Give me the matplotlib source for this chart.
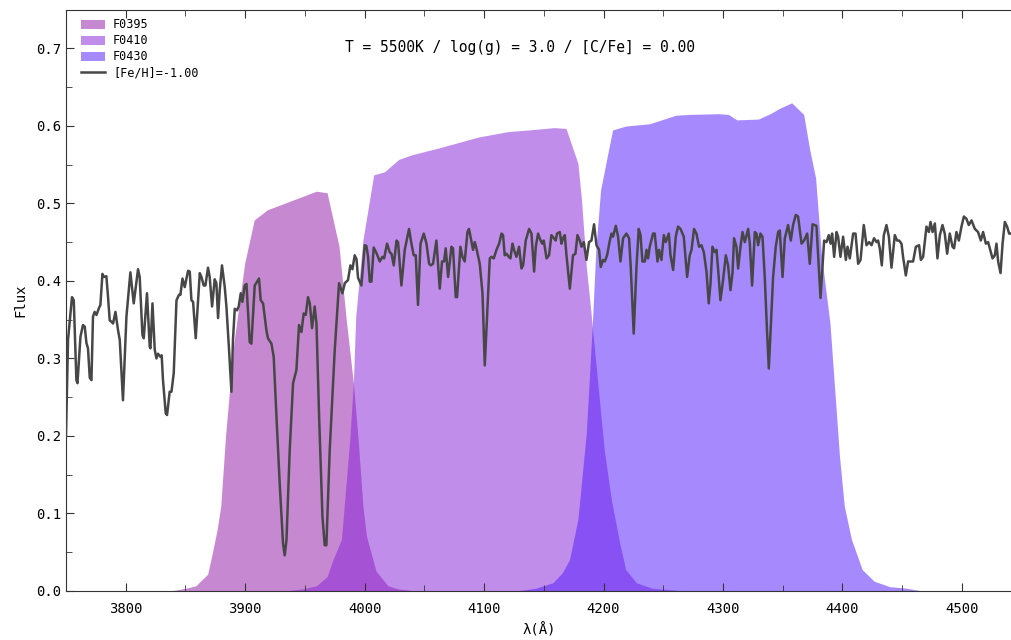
import matplotlib
matplotlib.use("Agg")
import matplotlib.pyplot as plt
from matplotlib.ticker import MultipleLocator

plt.rcParams['font.family'] = ['DejaVu Sans Mono', 'DejaVu Sans']

# ---------------- data ----------------
spec_wave = [3750.0, 3751.7, 3755.0, 3756.5, 3758.7, 3759.6, 3762.1, 3764.2, 3765.7, 3767.1,
             3768.4, 3769.9, 3771.3, 3772.6, 3774.0, 3775.5, 3777.6, 3778.8, 3780.5, 3781.8,
             3783.8, 3785.2, 3786.6, 3788.3, 3789.4, 3791.4, 3793.6, 3795.0, 3797.7, 3800.6,
             3803.9, 3806.7, 3810.3, 3811.7, 3814.0, 3815.1, 3817.8, 3820.1, 3820.7, 3822.4,
             3824.3, 3825.7, 3827.0, 3829.1, 3830.1, 3831.2, 3833.5, 3834.6, 3836.8, 3838.3,
             3840.2, 3842.5, 3844.6, 3845.8, 3847.5, 3849.4, 3852.2, 3853.6, 3855.0, 3856.4,
             3858.6, 3862.0, 3863.4, 3865.3, 3866.7, 3868.9, 3870.3, 3872.3, 3874.5, 3875.9,
             3877.3, 3878.7, 3880.6, 3882.9, 3884.3, 3886.5, 3888.5, 3889.8, 3891.3, 3893.2,
             3894.6, 3896.3, 3897.7, 3899.6, 3901.1, 3903.8, 3905.2, 3908.0, 3911.6, 3913.0,
             3915.0, 3917.8, 3919.1, 3922.0, 3923.9, 3926.2, 3928.9, 3931.7, 3933.1, 3934.6,
             3937.3, 3940.1, 3942.9, 3945.1, 3947.1, 3949.0, 3950.7, 3952.6, 3954.1, 3956.0,
             3958.2, 3959.7, 3961.9, 3964.7, 3966.6, 3968.0, 3970.8, 3975.0, 3978.6, 3981.4,
             3983.4, 3986.1, 3988.1, 3989.8, 3991.7, 3993.2, 3994.5, 3997.3, 4000.1, 4001.5,
             4002.9, 4004.3, 4005.7, 4007.6, 4009.9, 4012.7, 4014.9, 4016.3, 4018.8, 4021.0,
             4022.5, 4024.4, 4026.7, 4028.0, 4030.8, 4033.6, 4037.2, 4039.2, 4041.1, 4042.8,
             4044.7, 4046.8, 4049.5, 4051.8, 4054.0, 4055.4, 4057.3, 4060.1, 4062.9, 4064.8,
             4066.5, 4067.9, 4069.9, 4072.7, 4074.0, 4076.3, 4077.4, 4080.2, 4081.9, 4083.8,
             4086.1, 4087.4, 4089.5, 4090.8, 4092.2, 4093.6, 4096.4, 4098.7, 4100.6, 4102.5,
             4104.8, 4106.2, 4108.1, 4110.4, 4112.6, 4114.6, 4115.9, 4117.3, 4118.8, 4120.7,
             4122.1, 4123.8, 4125.1, 4127.1, 4129.3, 4131.3, 4132.7, 4134.9, 4137.7, 4139.7,
             4141.9, 4143.3, 4145.2, 4146.6, 4148.6, 4150.0, 4152.3, 4154.4, 4156.4, 4158.4,
             4160.0, 4161.1, 4163.4, 4164.8, 4166.1, 4167.6, 4169.0, 4171.8, 4174.5, 4176.5,
             4178.2, 4180.1, 4181.6, 4183.5, 4185.7, 4187.9, 4189.9, 4192.1, 4194.1, 4196.3,
             4197.7, 4199.6, 4201.1, 4203.0, 4205.3, 4206.7, 4208.0, 4210.3, 4212.2, 4214.2,
             4216.4, 4219.2, 4221.4, 4222.8, 4225.3, 4227.6, 4229.5, 4231.0, 4232.6, 4234.6,
             4236.0, 4237.3, 4238.7, 4241.5, 4242.9, 4245.2, 4246.5, 4248.5, 4250.5, 4252.1,
             4254.7, 4256.1, 4258.3, 4260.5, 4262.4, 4264.5, 4267.2, 4270.0, 4272.2, 4273.7,
             4275.8, 4277.8, 4280.0, 4282.0, 4284.0, 4286.2, 4288.1, 4289.6, 4291.2, 4293.2,
             4294.6, 4295.9, 4297.9, 4300.1, 4302.4, 4304.3, 4306.3, 4308.0, 4309.3, 4311.3,
             4312.7, 4314.7, 4316.4, 4318.3, 4321.1, 4322.5, 4324.4, 4326.7, 4328.1, 4329.4,
             4331.4, 4333.1, 4335.0, 4337.0, 4338.4, 4339.8, 4342.0, 4344.2, 4346.2, 4347.6,
             4349.9, 4351.8, 4354.5, 4356.8, 4358.7, 4361.0, 4362.9, 4365.8, 4367.9, 4370.5,
             4372.7, 4375.0, 4378.3, 4381.7, 4384.7, 4386.7, 4388.6, 4390.1, 4391.4, 4393.1,
             4395.1, 4396.4, 4398.4, 4400.6, 4402.9, 4404.3, 4406.2, 4409.0, 4411.0, 4413.2,
             4415.2, 4417.9, 4420.2, 4422.4, 4424.4, 4426.5, 4428.6, 4429.9, 4431.3, 4433.0,
             4434.7, 4436.9, 4438.9, 4441.1, 4443.9, 4445.8, 4447.5, 4449.5, 4450.8, 4453.1,
             4455.0, 4457.0, 4459.2, 4461.5, 4464.2, 4465.7, 4467.6, 4470.4, 4472.4, 4473.8,
             4475.5, 4477.4, 4479.6, 4481.6, 4483.8, 4485.7, 4487.7, 4489.9, 4492.2, 4493.5,
             4495.5, 4497.5, 4499.7, 4501.7, 4503.9, 4505.8, 4508.1, 4510.9, 4513.6, 4515.9,
             4517.8, 4520.1, 4522.0, 4523.4, 4525.7, 4527.6, 4529.0, 4530.4, 4532.4, 4534.1,
             4536.0, 4537.9, 4539.6, 4541.6, 4545.0]
spec_flux = [0.200, 0.324, 0.379, 0.375, 0.272, 0.268, 0.328, 0.343, 0.341, 0.320,
             0.313, 0.275, 0.272, 0.354, 0.360, 0.356, 0.365, 0.369, 0.409, 0.405,
             0.406, 0.379, 0.349, 0.347, 0.345, 0.360, 0.336, 0.324, 0.246, 0.354,
             0.411, 0.371, 0.415, 0.405, 0.330, 0.326, 0.384, 0.315, 0.313, 0.371,
             0.311, 0.300, 0.306, 0.302, 0.304, 0.272, 0.229, 0.227, 0.257, 0.257,
             0.281, 0.375, 0.382, 0.382, 0.403, 0.392, 0.413, 0.412, 0.375, 0.373,
             0.326, 0.410, 0.405, 0.394, 0.394, 0.417, 0.405, 0.367, 0.402, 0.397,
             0.352, 0.388, 0.420, 0.392, 0.367, 0.311, 0.257, 0.324, 0.364, 0.362,
             0.367, 0.384, 0.373, 0.394, 0.396, 0.321, 0.319, 0.394, 0.403, 0.375,
             0.371, 0.336, 0.326, 0.319, 0.302, 0.225, 0.139, 0.061, 0.046, 0.066,
             0.182, 0.268, 0.285, 0.343, 0.334, 0.358, 0.356, 0.379, 0.371, 0.339,
             0.367, 0.345, 0.225, 0.096, 0.059, 0.059, 0.182, 0.311, 0.397, 0.384,
             0.397, 0.401, 0.420, 0.415, 0.433, 0.428, 0.404, 0.394, 0.446, 0.445,
             0.431, 0.399, 0.399, 0.443, 0.436, 0.425, 0.431, 0.429, 0.448, 0.437,
             0.435, 0.420, 0.452, 0.450, 0.394, 0.440, 0.467, 0.448, 0.433, 0.433,
             0.369, 0.448, 0.461, 0.448, 0.422, 0.420, 0.422, 0.452, 0.390, 0.425,
             0.425, 0.442, 0.405, 0.444, 0.442, 0.379, 0.379, 0.444, 0.431, 0.425,
             0.463, 0.467, 0.450, 0.440, 0.450, 0.442, 0.422, 0.384, 0.291, 0.354,
             0.429, 0.431, 0.429, 0.440, 0.448, 0.461, 0.459, 0.433, 0.435, 0.431,
             0.429, 0.448, 0.440, 0.431, 0.444, 0.416, 0.420, 0.452, 0.467, 0.461,
             0.412, 0.444, 0.461, 0.455, 0.448, 0.452, 0.429, 0.433, 0.459, 0.455,
             0.452, 0.461, 0.463, 0.448, 0.455, 0.459, 0.433, 0.390, 0.433, 0.435,
             0.459, 0.452, 0.444, 0.450, 0.427, 0.450, 0.452, 0.473, 0.446, 0.440,
             0.418, 0.427, 0.425, 0.433, 0.452, 0.461, 0.457, 0.471, 0.457, 0.425,
             0.455, 0.461, 0.455, 0.418, 0.332, 0.418, 0.467, 0.459, 0.425, 0.425,
             0.440, 0.429, 0.444, 0.461, 0.461, 0.425, 0.440, 0.427, 0.459, 0.450,
             0.461, 0.433, 0.414, 0.457, 0.470, 0.467, 0.457, 0.405, 0.433, 0.440,
             0.467, 0.461, 0.444, 0.446, 0.437, 0.412, 0.371, 0.397, 0.444, 0.437,
             0.440, 0.416, 0.375, 0.401, 0.433, 0.420, 0.388, 0.410, 0.455, 0.444,
             0.416, 0.444, 0.463, 0.450, 0.467, 0.448, 0.394, 0.463, 0.461, 0.446,
             0.461, 0.457, 0.405, 0.332, 0.287, 0.332, 0.405, 0.444, 0.463, 0.465,
             0.405, 0.455, 0.472, 0.452, 0.472, 0.485, 0.483, 0.448, 0.452, 0.461,
             0.422, 0.473, 0.471, 0.378, 0.452, 0.450, 0.459, 0.448, 0.461, 0.431,
             0.463, 0.457, 0.431, 0.457, 0.427, 0.444, 0.429, 0.461, 0.461, 0.422,
             0.427, 0.472, 0.446, 0.450, 0.446, 0.455, 0.450, 0.452, 0.442, 0.420,
             0.459, 0.472, 0.457, 0.417, 0.459, 0.452, 0.452, 0.448, 0.431, 0.407,
             0.425, 0.425, 0.425, 0.444, 0.446, 0.427, 0.431, 0.470, 0.463, 0.476,
             0.463, 0.474, 0.429, 0.459, 0.472, 0.461, 0.435, 0.461, 0.444, 0.442,
             0.463, 0.452, 0.470, 0.483, 0.480, 0.472, 0.478, 0.467, 0.463, 0.452,
             0.463, 0.448, 0.450, 0.442, 0.429, 0.433, 0.448, 0.425, 0.410, 0.448,
             0.476, 0.470, 0.461, 0.461, 0.455]

f0395_wave = [3840, 3851, 3859, 3869, 3873, 3877, 3880, 3884, 3888, 3891, 3900, 3908,
              3919, 3960, 3969, 3979, 3985, 3991, 3995, 3999, 4002, 4010, 4020, 4029, 4040]
f0395_thr = [0.0, 0.003, 0.006, 0.021, 0.049, 0.079, 0.109, 0.20, 0.27, 0.32, 0.422, 0.478,
             0.491, 0.515, 0.513, 0.444, 0.350, 0.268, 0.195, 0.109, 0.070, 0.025, 0.006, 0.002, 0.0]

f0410_wave = [3937, 3948, 3960, 3969, 3974, 3981, 3988, 3991, 3993, 3999, 4008, 4017,
              4029, 4040, 4063, 4096, 4121, 4138, 4159, 4169, 4179, 4182, 4186, 4190,
              4191, 4197, 4201, 4207, 4214, 4219, 4228, 4241, 4264]
f0410_thr = [0.0, 0.002, 0.006, 0.018, 0.040, 0.066, 0.195, 0.268, 0.354, 0.452, 0.536, 0.540,
             0.556, 0.562, 0.571, 0.585, 0.592, 0.594, 0.597, 0.596, 0.551, 0.504, 0.418, 0.358,
             0.341, 0.246, 0.182, 0.117, 0.061, 0.027, 0.010, 0.003, 0.0]

f0430_wave = [4130, 4144, 4158, 4166, 4172, 4179, 4186, 4191, 4194, 4198, 4208, 4219,
              4239, 4253, 4261, 4272, 4297, 4305, 4312, 4330, 4340, 4348, 4358, 4368,
              4373, 4378, 4383, 4390, 4394, 4398, 4402, 4408, 4417, 4427, 4440, 4454, 4465]
f0430_thr = [0.0, 0.003, 0.010, 0.023, 0.040, 0.092, 0.203, 0.341, 0.440, 0.517, 0.594, 0.599,
             0.602, 0.609, 0.613, 0.614, 0.615, 0.614, 0.607, 0.608, 0.615, 0.622, 0.629, 0.614,
             0.569, 0.532, 0.431, 0.345, 0.259, 0.173, 0.109, 0.066, 0.027, 0.012, 0.005, 0.003, 0.0]

filter_names = ["F0395", "F0410", "F0430"]
filter_colors = ["#8f15a5", "#851dd7", "#4f17fd"]
spec_label = "[Fe/H]=-1.00"
title_text = "T = 5500K / log(g) = 3.0 / [C/Fe] = 0.00"

# ---------------- plot ----------------
fig = plt.figure(figsize=(10.12, 6.40), dpi=100)
ax = fig.add_axes([66 / 1012, 49 / 640, 946 / 1012, 581.5 / 640])

for w, t, name, col in zip([f0395_wave, f0410_wave, f0430_wave],
                           [f0395_thr, f0410_thr, f0430_thr],
                           filter_names, filter_colors):
    ax.fill_between(w, 0, t, facecolor=col, alpha=0.5, linewidth=0, label=name)

ax.plot(spec_wave, spec_flux, color="#474747", lw=1.8, label=spec_label, zorder=5)

ax.set_xlim(3750, 4542)
ax.set_ylim(0, 0.75)
ax.xaxis.set_major_locator(MultipleLocator(100))
ax.xaxis.set_minor_locator(MultipleLocator(50))
ax.yaxis.set_major_locator(MultipleLocator(0.1))
ax.yaxis.set_minor_locator(MultipleLocator(0.05))
ax.tick_params(which="both", direction="in", top=True, right=False, colors="#333333",
               labelcolor="black", labelsize=10)
ax.tick_params(which="major", length=6)
ax.tick_params(which="minor", length=4)
ax.tick_params(axis="x", which="major", pad=8)
for side in ["left", "bottom", "top"]:
    ax.spines[side].set_color("#333333")
ax.spines["right"].set_visible(False)

ax.set_xlabel("λ(Å)", fontsize=10, labelpad=5)
ax.set_ylabel("Flux", fontsize=10, labelpad=6)
ax.text(0.48, 0.934, title_text, transform=ax.transAxes, ha="center", va="center",
        fontsize=10.5)

leg = ax.legend(loc="upper left", bbox_to_anchor=(0.006, 1.0), frameon=False, fontsize=8.5,
                handlelength=2.1, handleheight=0.8, handletextpad=0.65, labelspacing=0.25,
                borderaxespad=0.35)

fig.savefig("out.png", dpi=100)
